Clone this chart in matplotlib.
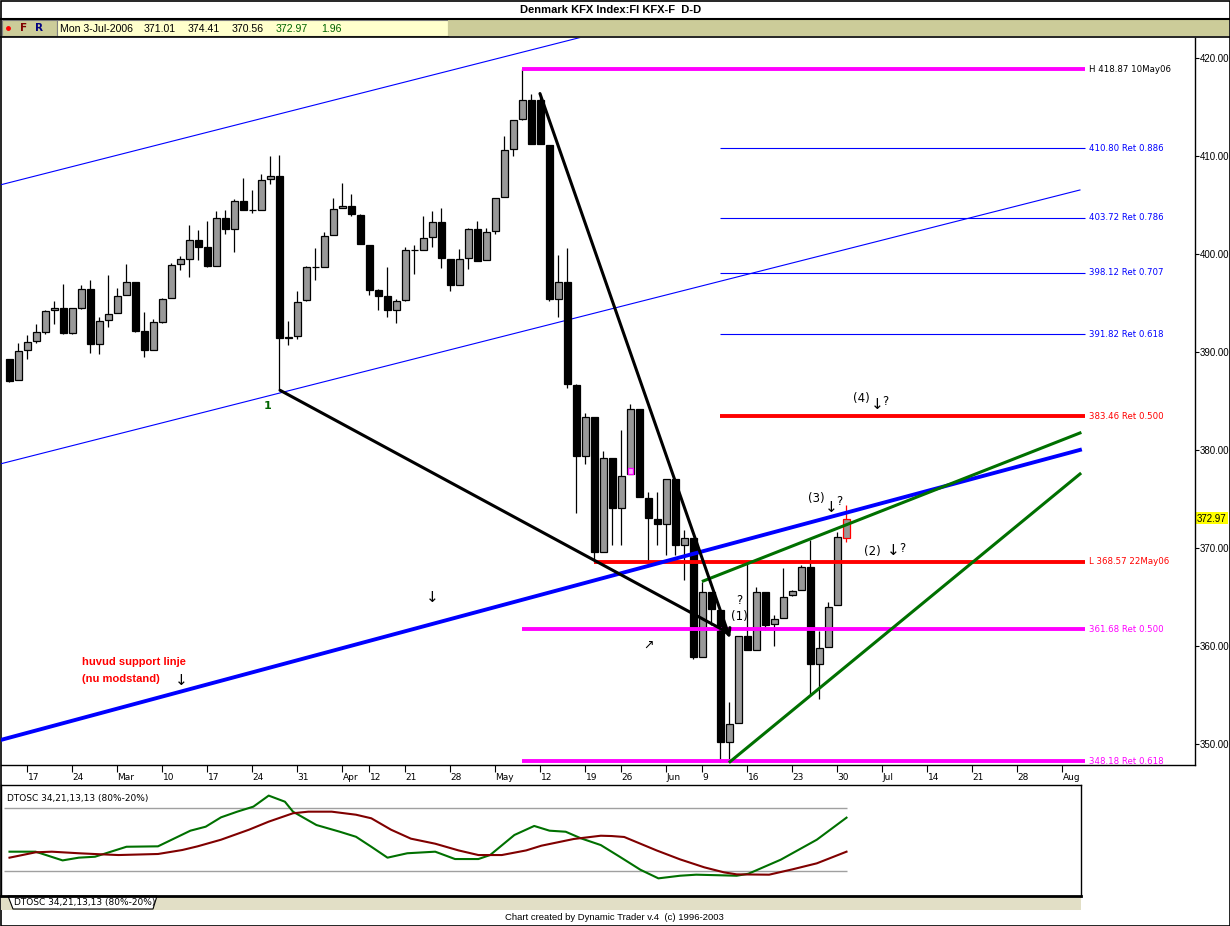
import matplotlib
matplotlib.use("Agg")
import matplotlib.pyplot as plt
from matplotlib.patches import Rectangle, Polygon

W, H = 1230, 926

# daily candles, bar index 0 = 15 Feb 2006 ... 93 = 3 Jul 2006
opens = [389.25, 387.11, 390.17, 391.09, 392.01, 394.26, 394.49, 391.98, 394.53, 396.40,
         390.78, 393.24, 393.95, 395.79, 397.12, 392.11, 390.17, 393.10, 395.48, 398.96,
         399.53, 401.41, 400.69, 398.82, 403.65, 402.60, 405.39, 404.47, 404.47, 407.64,
         407.98, 391.50, 391.60, 395.28, 398.65, 398.65, 401.92, 404.68, 404.88, 403.96,
         400.90, 396.30, 395.69, 394.26, 395.28, 400.39, 400.39, 401.72, 403.25, 399.47,
         396.81, 399.57, 402.53, 399.36, 402.33, 405.84, 410.70, 413.77, 415.71, 415.71,
         411.11, 395.38, 397.12, 386.63, 379.41, 383.33, 369.61, 379.14, 374.03, 377.50,
         384.14, 375.12, 372.90, 372.40, 376.99, 370.25, 371.04, 358.88, 365.45, 363.65,
         350.13, 352.07, 360.99, 359.53, 365.45, 362.18, 362.80, 365.18, 365.66, 368.01,
         358.16, 359.87, 364.12, 371.01]
highs = [389.30, 390.89, 391.70, 392.86, 394.29, 395.18, 396.91, 394.49, 396.81, 397.36,
         393.54, 397.83, 396.50, 398.99, 397.12, 394.05, 393.34, 395.48, 399.06, 399.81,
         402.94, 402.43, 403.35, 404.37, 404.47, 405.60, 407.77, 406.51, 408.15, 409.99,
         410.12, 393.17, 396.23, 398.79, 400.63, 402.29, 405.73, 407.23, 406.11, 404.13,
         400.90, 396.47, 398.69, 395.38, 400.69, 400.90, 403.90, 404.37, 404.68, 399.47,
         400.49, 402.63, 403.35, 402.63, 405.70, 412.03, 413.67, 418.87, 416.32, 416.32,
         411.11, 399.91, 400.59, 386.70, 383.74, 383.33, 379.89, 379.14, 382.03, 384.69,
         384.14, 375.70, 375.70, 376.99, 376.99, 371.82, 371.04, 366.54, 365.45, 363.65,
         354.28, 360.99, 368.58, 366.03, 365.45, 363.14, 367.90, 365.70, 368.24, 370.80,
         361.54, 364.43, 371.65, 374.41]
lows = [386.97, 387.10, 389.25, 390.89, 391.87, 392.89, 391.87, 391.87, 394.43, 389.93,
        389.76, 392.52, 393.95, 395.79, 392.01, 389.52, 390.17, 393.00, 395.48, 398.41,
        397.70, 399.43, 398.68, 398.80, 402.05, 400.25, 404.54, 404.20, 404.47, 407.20,
        386.12, 390.68, 391.36, 395.18, 397.39, 398.65, 401.92, 404.68, 403.86, 401.00,
        395.86, 394.33, 393.61, 393.00, 395.18, 398.00, 400.39, 400.76, 398.55, 396.20,
        396.81, 398.52, 399.26, 399.36, 402.02, 405.84, 410.06, 413.67, 411.22, 411.22,
        395.18, 393.61, 386.29, 373.59, 378.53, 368.57, 369.61, 370.29, 370.29, 377.50,
        375.15, 368.58, 370.29, 369.26, 369.26, 366.71, 358.68, 358.88, 362.11, 348.16,
        348.16, 352.07, 359.53, 359.53, 361.60, 360.00, 362.80, 365.08, 365.66, 355.07,
        354.52, 359.87, 364.12, 370.56]
closes = [387.07, 390.07, 390.99, 392.01, 394.15, 394.49, 391.98, 394.49, 396.40, 390.78,
          393.13, 393.85, 395.69, 397.12, 392.18, 390.17, 393.03, 395.38, 398.85, 399.47,
          401.41, 400.76, 398.75, 403.65, 402.60, 405.39, 404.54, 404.47, 407.54, 407.98,
          391.40, 391.44, 395.14, 398.65, 398.65, 401.82, 404.58, 404.88, 404.07, 401.00,
          396.37, 395.76, 394.26, 395.18, 400.39, 400.39, 401.61, 403.25, 399.57, 396.81,
          399.47, 402.53, 399.33, 402.23, 405.70, 410.60, 413.67, 415.71, 411.22, 411.22,
          395.38, 397.12, 386.70, 379.41, 383.33, 369.61, 379.14, 374.03, 377.37, 384.14,
          375.15, 373.01, 372.40, 376.99, 370.25, 371.04, 358.88, 365.45, 363.71, 350.13,
          351.97, 360.99, 359.53, 365.45, 362.11, 362.69, 365.01, 365.59, 368.01, 358.16,
          359.73, 363.99, 371.07, 372.97]

tick_pos = [2, 7, 12, 17, 22, 27, 32, 37, 40, 44, 49, 54, 59, 64, 68, 73, 77, 82, 87, 92,
            97, 102, 107, 112, 117]
tick_lab = ['17', '24', 'Mar', '10', '17', '24', '31', 'Apr', '12', '21', '28', 'May', '12',
            '19', '26', 'Jun', '9', '16', '23', '30', 'Jul', '14', '21', '28', 'Aug']

# horizontal levels (high/low and retracements)
lev_val = [418.87, 410.80, 403.72, 398.12, 391.82, 383.46, 368.57, 361.68, 348.18]
lev_start = [57, 79, 79, 79, 79, 79, 65, 57, 57]
lev_lab = ['H 418.87 10May06', '410.80 Ret 0.886', '403.72 Ret 0.786', '398.12 Ret 0.707',
           '391.82 Ret 0.618', '383.46 Ret 0.500', 'L 368.57 22May06', '361.68 Ret 0.500',
           '348.18 Ret 0.618']
lev_col = ['#ff00ff', '#0000ff', '#0000ff', '#0000ff', '#0000ff', '#ff0000', '#ff0000',
           '#ff00ff', '#ff00ff']
lev_txt = ['black', '#0000ff', '#0000ff', '#0000ff', '#0000ff', '#ff0000', '#ff0000',
           '#ff00ff', '#ff00ff']
lev_end = 119.5

# trend lines, (bar index pair, price pair)
chan_up_x, chan_up_y = [-1.06, 64.5], [407.06, 422.38]
chan_lo_x, chan_lo_y = [-1.06, 118.94], [378.56, 406.55]
support_x, support_y = [-1.06, 118.94], [350.35, 380.00]
green_up_x, green_up_y = [77.09, 118.94], [366.61, 381.73]
green_lo_x, green_lo_y = [80.06, 118.94], [348.15, 377.54]
arrow1_x, arrow1_y = [30.06, 80.06], [386.09, 361.22]
arrow2_x, arrow2_y = [58.94, 80.06], [416.40, 360.76]

# DTOSC 34,21,13,13
osc_gx = [0, 2.9, 5.9, 7.7, 9.5, 13.0, 16.5, 20.1, 21.8, 23.5, 25.3, 27.1, 28.8, 30.6, 31.5,
          34.1, 36.7, 38.5, 40.2, 42.0, 44.2, 47.3, 49.5, 52.1, 53.4, 56.1, 58.3, 60.0, 61.8,
          63.5, 65.7, 67.8, 70.1, 72.1, 74.5, 76.3, 78.6, 80.8, 82.1, 85.7, 89.7, 93.0]
osc_g = [38.4, 38.4, 30.1, 32.7, 33.6, 43.1, 43.5, 58.4, 62.2, 71.1, 76.5, 81.3, 91.8, 86.0,
         76.5, 63.8, 57.4, 52.6, 43.1, 32.7, 36.9, 38.4, 31.4, 31.4, 35.2, 54.3, 62.9, 58.4,
         57.4, 51.1, 44.7, 33.6, 21.2, 13.0, 15.5, 16.5, 16.0, 15.5, 17.4, 30.8, 49.8, 70.8]
osc_rx = [0, 2.9, 4.7, 7.7, 9.9, 12.1, 16.5, 19.2, 20.9, 23.5, 26.6, 28.8, 31.5, 33.2, 35.8,
          38.5, 40.2, 42.4, 44.6, 47.3, 49.9, 52.1, 54.7, 57.4, 59.1, 62.7, 65.7, 66.9, 68.3,
          71.9, 74.5, 77.2, 79.4, 80.8, 84.4, 87.0, 89.7, 93.0]
osc_r = [32.7, 37.8, 38.4, 36.9, 36.0, 35.2, 36.2, 40.0, 43.5, 49.8, 59.3, 67.0, 75.0, 76.5,
         76.5, 73.6, 70.2, 59.3, 50.8, 46.0, 39.6, 35.2, 35.2, 39.6, 44.1, 50.5, 53.6, 53.3,
         52.4, 39.6, 31.1, 23.5, 18.7, 16.8, 16.5, 21.6, 27.3, 38.4]


def px2i(px):
    return (px - 9.5) / 9.0


def py2p(py):
    return 420.0 - (py - 58.3) / 9.79


def fr(x0, y0, x1, y1):
    return [x0 / W, 1 - y1 / H, (x1 - x0) / W, (y1 - y0) / H]


fig = plt.figure(figsize=(W / 100, H / 100), dpi=100)
fig.patch.set_facecolor('white')

# background / chrome in pixel coordinates
bg = fig.add_axes([0, 0, 1, 1])
bg.set_xlim(0, W)
bg.set_ylim(H, 0)
bg.axis('off')
bg.add_patch(Rectangle((0.5, 0.5), W - 1, H - 1, fill=False, ec='black', lw=1.2))
bg.text(611, 10, 'Denmark KFX Index:FI KFX-F  D-D', ha='center', va='center',
        fontsize=8, fontweight='bold', family='Liberation Sans')
bg.plot([0, W], [18.5, 18.5], color='black', lw=1.5)
bg.add_patch(Rectangle((2, 20), 55, 16, fc='#cccc99', ec='#808080', lw=0.8))
bg.add_patch(Rectangle((57, 20), 391, 16, fc='#ffffcc', ec='#808080', lw=0.8))
bg.add_patch(Rectangle((448, 20), W - 449, 16, fc='#cccc99', ec='none'))
bg.plot([0, W], [37, 37], color='black', lw=1.2)
bg.plot(8, 28, 'o', color='red', ms=2.5)
bg.text(24, 28, 'F', color='#800000', fontsize=7.5, fontweight='bold', ha='center', va='center')
bg.text(39, 28, 'R', color='#000080', fontsize=7.5, fontweight='bold', ha='center', va='center')
info = [(60, 'Mon 3-Jul-2006', 'black'), (144, '371.01', 'black'), (188, '374.41', 'black'),
        (232, '370.56', 'black'), (276, '372.97', '#006400'), (321, '1.96', '#006400')]
for xx, s, col in info:
    bg.text(xx, 28.5, s, color=col, fontsize=7.6, ha='left', va='center', family='Liberation Sans')

# last price tag
bg.add_patch(Rectangle((1196, 512), 32, 12, fc='yellow', ec='none'))
bg.text(1197, 518.5, '372.97', fontsize=7, ha='left', va='center', family='Liberation Sans')

# oscillator tab bar and footer
bg.add_patch(Rectangle((1, 897), 1080, 13, fc='#e2dfc6', ec='none'))
bg.add_patch(Polygon([(8, 896), (13, 909), (153, 909), (157, 896)], closed=True,
                     fc='white', ec='black', lw=0.8))
bg.text(14, 903, 'DTOSC 34,21,13,13 (80%-20%)', fontsize=6.5, ha='left', va='center')
bg.text(614, 917, 'Chart created by Dynamic Trader v.4  (c) 1996-2003', fontsize=6.8,
        ha='center', va='center', family='Liberation Sans')

# ---------------- main price chart
ax = fig.add_axes(fr(1, 38, 1195, 765))
ax.set_facecolor('none')
ax.set_xlim(px2i(1), px2i(1195))
ax.set_ylim(py2p(765), py2p(38))
for s in ['left', 'top']:
    ax.spines[s].set_visible(False)
ax.spines['right'].set_linewidth(1.0)
ax.spines['bottom'].set_linewidth(1.0)

n = len(opens)
xs = list(range(n))
body_lo = [min(o, c) for o, c in zip(opens, closes)]
body_h = [abs(c - o) for o, c in zip(opens, closes)]
faces = ['#999999' if c >= o else 'black' for o, c in zip(opens, closes)]
edges = ['black'] * n
edges[-1] = 'red'
ax.vlines(xs, lows, highs, colors=edges, lw=0.9, zorder=3)
ax.bar(xs, body_h, bottom=body_lo, width=0.7, color=faces, edgecolor=edges, lw=0.9, zorder=4)
# marker on the 26 May candle
ax.add_patch(Rectangle((69 - 0.3, 377.5), 0.6, 0.7, fc='#ffb0ff', ec='#ff00ff', lw=0.9, zorder=5))

# channels and support line
ax.plot(chan_up_x, chan_up_y, color='#0000ff', lw=0.8, zorder=2)
ax.plot(chan_lo_x, chan_lo_y, color='#0000ff', lw=0.8, zorder=2)
ax.plot(support_x, support_y, color='#0000ff', lw=2.8, zorder=6)
ax.plot(green_up_x, green_up_y, color='#007000', lw=2.2, zorder=6)
ax.plot(green_lo_x, green_lo_y, color='#007000', lw=2.2, zorder=6)
for lx, ly in [(arrow1_x, arrow1_y), (arrow2_x, arrow2_y)]:
    ax.annotate('', xy=(lx[1], ly[1]), xytext=(lx[0], ly[0]), zorder=6,
                arrowprops=dict(arrowstyle='->', color='black', lw=2.2, shrinkA=0, shrinkB=0,
                                mutation_scale=12))

# levels
for v, st, lab, col, tc in zip(lev_val, lev_start, lev_lab, lev_col, lev_txt):
    thin = col == '#0000ff'
    ax.plot([st, lev_end], [v, v], color=col, lw=0.8 if thin else 2.8, zorder=5,
            solid_capstyle='butt')
    ax.text(120.0, v, lab, color=tc, fontsize=6.2, ha='left', va='center')

# annotations
arr = dict(fontsize=11, ha='center', va='center', family='DejaVu Sans')
lab = dict(fontsize=8.5, ha='center', va='center')
ax.text(px2i(268), py2p(406), '1', color='#006400', fontsize=8, fontweight='bold',
        ha='center', va='center')
ax.text(px2i(432), py2p(597), '\u2193', **arr)
ax.text(px2i(82), py2p(662), 'huvud support linje', color='red', fontsize=8,
        fontweight='bold', ha='left', va='center', family='Liberation Sans')
ax.text(px2i(82), py2p(679), '(nu modstand)', color='red', fontsize=8,
        fontweight='bold', ha='left', va='center', family='Liberation Sans')
ax.text(px2i(181), py2p(680), '\u2193', **arr)
ax.text(px2i(649), py2p(645), '\u2197', fontsize=9, ha='center', va='center')
ax.text(px2i(739), py2p(600), '?', fontsize=8.5, ha='center', va='center')
ax.text(px2i(739), py2p(616), '(1)', **lab)
ax.text(px2i(872), py2p(551), '(2)', **lab)
ax.text(px2i(893), py2p(550), '\u2193', **arr)
ax.text(px2i(902), py2p(548), '?', fontsize=8.5, ha='center', va='center')
ax.text(px2i(816), py2p(498), '(3)', **lab)
ax.text(px2i(831), py2p(507), '\u2193', **arr)
ax.text(px2i(839), py2p(501), '?', fontsize=8.5, ha='center', va='center')
ax.text(px2i(861), py2p(398), '(4)', **lab)
ax.text(px2i(877), py2p(404), '\u2193', **arr)
ax.text(px2i(885), py2p(401), '?', fontsize=8.5, ha='center', va='center')

# axes ticks
ax.yaxis.tick_right()
yt = list(range(350, 421, 10))
ax.set_yticks(yt)
ax.set_yticklabels(['%.2f' % v for v in yt], family='Liberation Sans')
ax.tick_params(axis='y', labelsize=7, length=3, pad=0.5, width=0.8)
ax.set_xticks(tick_pos)
ax.set_xticklabels(tick_lab)
ax.tick_params(axis='x', labelsize=6.5, length=5, pad=1, width=0.8)
for lbl in ax.get_xticklabels():
    lbl.set_ha('left')

# ---------------- oscillator panel
osc = fig.add_axes(fr(1, 785, 1081, 896))
osc.set_facecolor('none')
osc.set_xlim(px2i(1), px2i(1081))
osc.set_ylim(-3.8, 101.9)
osc.set_xticks([])
osc.set_yticks([])
for s in osc.spines.values():
    s.set_linewidth(1.0)
osc.spines['bottom'].set_linewidth(2.0)
osc.hlines([80, 20], -0.6, 93, colors='#a0a0a0', lw=1.0)
osc.plot(osc_gx, osc_g, color='#007000', lw=1.5)
osc.plot(osc_rx, osc_r, color='#800000', lw=1.5)
osc.text(0.006, 0.88, 'DTOSC 34,21,13,13 (80%-20%)', transform=osc.transAxes, fontsize=6.5,
         ha='left', va='center')

fig.savefig('out.png', dpi=100)
